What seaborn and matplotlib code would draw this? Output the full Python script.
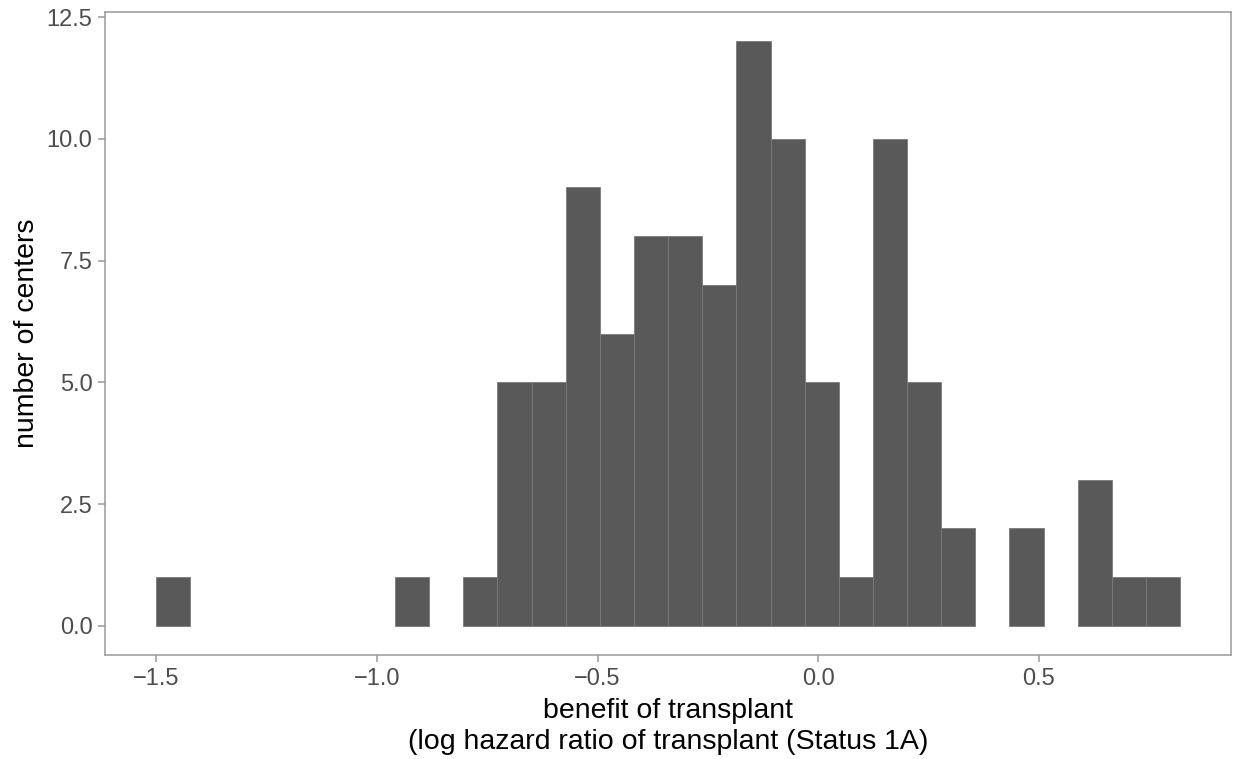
import numpy as np
import pandas as pd
import matplotlib
matplotlib.use("Agg")
import matplotlib.pyplot as plt
import seaborn as sns

# Histogram definition (30 bins)
bin_lo = -1.5
bin_hi = 0.82
n_bins = 30
counts = [1, 0, 0, 0, 0, 0, 0, 1, 0, 1,
          5, 5, 9, 6, 8, 8, 7, 12, 10, 5,
          1, 10, 5, 2, 0, 2, 0, 3, 1, 1]
x_ticks = [-1.5, -1.0, -0.5, 0.0, 0.5]
x_ticklabels = ["\u22121.5", "\u22121.0", "\u22120.5", "0.0", "0.5"]
y_ticks = [0.0, 2.5, 5.0, 7.5, 10.0, 12.5]
y_ticklabels = ["0.0", "2.5", "5.0", "7.5", "10.0", "12.5"]

edges = np.linspace(bin_lo, bin_hi, n_bins + 1)
centers = (edges[:-1] + edges[1:]) / 2
df = pd.DataFrame({"benefit": centers, "n": counts})

sns.set_theme(style="white")
plt.rcParams["font.family"] = ["Liberation Sans", "DejaVu Sans"]

fig = plt.figure(figsize=(12.35, 7.59), dpi=100)
ax = fig.add_axes([0.085, 0.137, 0.912, 0.847])

sns.histplot(data=df, x="benefit", weights="n", bins=n_bins,
             binrange=(bin_lo, bin_hi), ax=ax,
             color="#595959", alpha=1.0, edgecolor="#7a7a7a", linewidth=0.6)

# empty bins draw nothing (as in ggplot)
for p in ax.patches:
    if p.get_height() == 0:
        p.set_visible(False)

span = bin_hi - bin_lo
ax.set_xlim(bin_lo - 0.05 * span, bin_hi + 0.05 * span)
ax.set_ylim(-0.6, 12.6)
ax.set_xticks(x_ticks)
ax.set_xticklabels(x_ticklabels)
ax.set_yticks(y_ticks)
ax.set_yticklabels(y_ticklabels)

for s in ax.spines.values():
    s.set_color("#9a9a9a")
    s.set_linewidth(1.1)
ax.tick_params(axis="both", which="major", direction="out", length=5, width=1.1,
               color="#9a9a9a", labelcolor="#4d4d4d", labelsize=17, pad=4,
               bottom=True, left=True)
ax.grid(False)

ax.set_xlabel("benefit of transplant\n(log hazard ratio of transplant (Status 1A)",
              fontsize=20.5, color="black", labelpad=6, linespacing=1.25)
ax.set_ylabel("number of centers", fontsize=20.5, color="black", labelpad=5)

fig.savefig("out.png", dpi=100, facecolor="white")
